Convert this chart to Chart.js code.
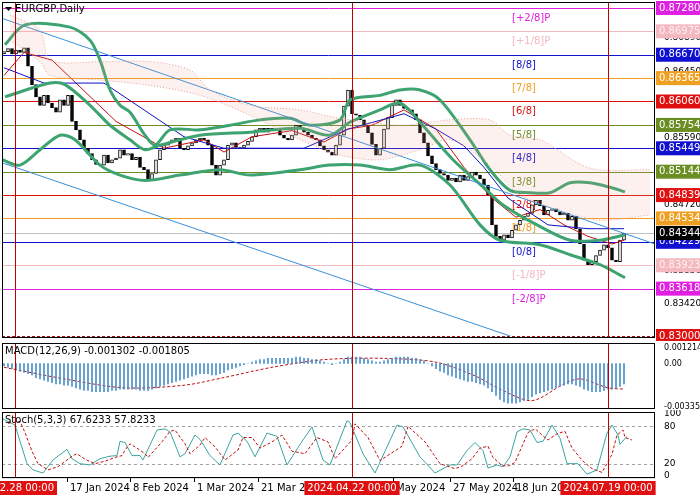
<!DOCTYPE html>
<html>
<head>
<meta charset="utf-8">
<script src="https://cdn.jsdelivr.net/npm/chart.js@4.4.1/dist/chart.umd.min.js"></script>
<style>
  body { margin: 0; background: #fff; }
  #wrap { position: relative; width: 700px; height: 500px; overflow: hidden; }
  canvas { position: absolute; left: 0; }
</style>
</head>
<body>
<div id="wrap">
  <canvas id="mainChart" style="top:0"></canvas>
  <canvas id="macdChart" style="top:341px"></canvas>
  <canvas id="stochChart" style="top:410px"></canvas>
</div>
<script>
// EURGBP daily closes, one per bar (bar index 0..155)
const closes = [
  0.8671,0.8675,0.8668,0.8673,0.8670,0.8676,0.8652,0.8628,0.8612,0.8601,
  0.8614,0.8604,0.8598,0.8592,0.8608,0.8601,0.8614,0.8580,0.8569,0.8556,
  0.8545,0.8538,0.8530,0.8524,0.8523,0.8536,0.8526,0.8530,0.8532,0.8543,
  0.8536,0.8538,0.8530,0.8533,0.8520,0.8517,0.8503,0.8512,0.8530,0.8543,
  0.8549,0.8552,0.8556,0.8558,0.8545,0.8543,0.8548,0.8552,0.8556,0.8558,
  0.8556,0.8549,0.8523,0.8510,0.8523,0.8530,0.8549,0.8552,0.8546,0.8545,
  0.8549,0.8554,0.8560,0.8569,0.8571,0.8566,0.8571,0.8570,0.8569,0.8562,
  0.8558,0.8556,0.8562,0.8575,0.8571,0.8566,0.8562,0.8558,0.8556,0.8548,
  0.8543,0.8540,0.8536,0.8549,0.8562,0.8600,0.8621,0.8590,0.8588,0.8582,
  0.8575,0.8565,0.8550,0.8536,0.8545,0.8570,0.8585,0.8601,0.8608,0.8601,
  0.8597,0.8595,0.8590,0.8582,0.8565,0.8552,0.8535,0.8525,0.8517,0.8512,
  0.8510,0.8503,0.8506,0.8501,0.8510,0.8503,0.8508,0.8514,0.8510,0.8505,
  0.8497,0.8484,0.8445,0.8430,0.8425,0.8432,0.8428,0.8438,0.8445,0.8451,
  0.8456,0.8460,0.8471,0.8477,0.8470,0.8458,0.8464,0.8466,0.8462,0.8458,
  0.8460,0.8451,0.8456,0.8440,0.8420,0.8399,0.8393,0.8397,0.8405,0.8412,
  0.8419,0.8415,0.8399,0.8397,0.8425,0.8434
];
const firstOpen = 0.8668;

// Bollinger bands, read as [bar index, price]
const bbUpper = [[0.25,0.8680],[5.25,0.8706],[16.5,0.8703],[21.5,0.8686],[24,0.8660],[26.5,0.8621],[29,0.8601],[31.5,0.8592],[35.25,0.8562],[37.75,0.8549],[41.5,0.8569],[49,0.8569],[56.5,0.8575],[64,0.8582],[71.5,0.8584],[76.5,0.8575],[84,0.8582],[86.5,0.8608],[94,0.8614],[99,0.8621],[104,0.8621],[109,0.8608],[116.5,0.8556],[121.5,0.8517],[126.5,0.8490],[131.5,0.8487],[136.5,0.8487],[141.5,0.8500],[146.5,0.8500],[151.5,0.8494],[155.25,0.8488]];
const bbMiddle = [[0.25,0.8612],[11.5,0.8630],[15.25,0.8628],[21.5,0.8601],[26.5,0.8575],[31.5,0.8556],[35.25,0.8543],[39,0.8549],[49,0.8562],[61.5,0.8566],[74,0.8571],[81.5,0.8562],[86.5,0.8579],[94,0.8595],[99,0.8604],[104,0.8579],[112.25,0.8530],[120.75,0.8490],[124.75,0.8471],[133.25,0.8445],[141.5,0.8425],[149,0.8425],[155.25,0.8432]];
const bbLower = [[-0.5,0.8530],[4,0.8523],[9,0.8543],[14,0.8562],[17.75,0.8556],[24,0.8523],[29,0.8510],[35.25,0.8503],[44,0.8510],[54,0.8517],[61.5,0.8510],[74,0.8517],[81.5,0.8523],[89,0.8523],[96.5,0.8517],[104,0.8523],[111.5,0.8497],[119,0.8445],[124,0.8425],[134,0.8419],[141.5,0.8406],[149,0.8393],[155.25,0.8376]];

// Ichimoku cloud edges
const cloudTop = [[1.5,0.8719],[9,0.8699],[11.5,0.8660],[24,0.8658],[36.5,0.8658],[46.5,0.8647],[51.5,0.8621],[61.5,0.8601],[74,0.8595],[84,0.8584],[99,0.8575],[111.5,0.8582],[121.5,0.8582],[126.5,0.8562],[134,0.8556],[146.5,0.8519],[161.5,0.8517]];
const cloudBottom = [[1.5,0.8686],[9,0.8658],[11.5,0.8640],[24,0.8634],[36.5,0.8627],[49,0.8614],[61.5,0.8588],[74,0.8556],[84,0.8536],[94,0.8530],[104,0.8543],[111.5,0.8556],[121.5,0.8523],[129,0.8484],[139,0.8464],[149,0.8451],[161.5,0.8458]];
const tenkan = [[0,0.8640],[5,0.8670],[12,0.8660],[20,0.8620],[28,0.8580],[40,0.8545],[50,0.8556],[55,0.8540],[62,0.8560],[72,0.8568],[80,0.8553],[86,0.8570],[92,0.8575],[100,0.8595],[108,0.8570],[115,0.8520],[122,0.8480],[128,0.8455],[134,0.8465],[140,0.8445],[146,0.8430],[152,0.8420],[155,0.8425]];
const kijun = [[0,0.8650],[10,0.8630],[25,0.8630],[45,0.8560],[55,0.8545],[75,0.8545],[86,0.8570],[100,0.8590],[108,0.8570],[115,0.8548],[120,0.8520],[126,0.8480],[136,0.8445],[146,0.8440],[155,0.8440]];
const trendUpper = [[-0.25,0.8714],[162.75,0.8420]];
const trendLower = [[-0.5,0.8526],[126.5,0.8300]];

// Murrey math levels
const murreyLevels = [0.87280,0.86975,0.86670,0.86365,0.86060,0.85754,0.85449,0.85144,0.84839,0.84534,0.84229,0.83923,0.83618];
const murreyNames = ['[+2/8]P','[+1/8]P','[8/8]','[7/8]','[6/8]','[5/8]','[4/8]','[3/8]','[2/8]','[1/8]','[0/8]','[-1/8]P','[-2/8]P'];
const murreyColors = ['#e020e0','#f4b8c0','#1010d0','#f0a020','#e01010','#6b8e23','#1010d0','#6b8e23','#e01010','#f0a020','#1010d0','#f4b8c0','#e020e0'];
const priceTicks = [0.86890,0.86450,0.85590,0.84720,0.83850,0.83420];
const lastPrice = 0.84344;
const floorLevel = 0.83000;

// MACD histogram per bar, signal read as [bar index, value]
const macdHist = [
  -0.0002,-0.0003,-0.0004,-0.0005,-0.0006,-0.0007,-0.0008,-0.0009,-0.0011,-0.0012,
  -0.0013,-0.0014,-0.0015,-0.0016,-0.0016,-0.0017,-0.0017,-0.0018,-0.0019,-0.0020,
  -0.0021,-0.0021,-0.0022,-0.0022,-0.0022,-0.0022,-0.0022,-0.0021,-0.0021,-0.0020,
  -0.0020,-0.0020,-0.0020,-0.0020,-0.0021,-0.0021,-0.0021,-0.0020,-0.0019,-0.0018,
  -0.0017,-0.0016,-0.0015,-0.0014,-0.0013,-0.0012,-0.0011,-0.0010,-0.0009,-0.0008,
  -0.0008,-0.0008,-0.0009,-0.0009,-0.0008,-0.0007,-0.0005,-0.0004,-0.0003,-0.0002,
  -0.0001,0.0000,0.0001,0.0002,0.0003,0.0003,0.0004,0.0004,0.0004,0.0004,
  0.0004,0.0004,0.0004,0.0005,0.0005,0.0004,0.0004,0.0003,0.0003,0.0002,
  0.0001,0.0000,-0.0001,0.0000,0.0001,0.0003,0.0005,0.0005,0.0005,0.0005,
  0.0004,0.0003,0.0002,0.0001,0.0001,0.0002,0.0003,0.0004,0.0005,0.0005,
  0.0005,0.0005,0.0004,0.0004,0.0003,0.0002,0.0000,-0.0002,-0.0004,-0.0006,
  -0.0007,-0.0009,-0.0010,-0.0011,-0.0012,-0.0013,-0.0014,-0.0014,-0.0015,-0.0016,
  -0.0017,-0.0019,-0.0022,-0.0025,-0.0028,-0.0030,-0.0031,-0.0031,-0.0031,-0.0030,
  -0.0029,-0.0028,-0.0026,-0.0024,-0.0023,-0.0022,-0.0021,-0.0020,-0.0019,-0.0018,
  -0.0017,-0.0016,-0.0016,-0.0017,-0.0018,-0.0020,-0.0021,-0.0022,-0.0022,-0.0022,
  -0.0021,-0.0020,-0.0020,-0.0019,-0.0018,-0.0016
];
const macdSignal = [[0,-0.0003],[15,-0.0012],[30,-0.0019],[45,-0.0017],[55,-0.0011],[67,-0.0003],[80,0.0003],[95,0.0004],[108,0.0001],[118,-0.0010],[124,-0.0020],[132,-0.0029],[140,-0.0016],[144,-0.0012],[151,-0.0019],[155,-0.0020]];

// Stochastic %K and %D, read as bar index / value
const stochIdx = [-0.25,2.75,4,5.75,7.25,9.75,12.25,15.75,17,19,21.5,24,26.5,28.25,29,30.25,32,34,34.75,38.25,40.25,41.5,44,45.25,47.75,49,51.5,54,57.25,58.5,60.75,62.75,65.75,68.25,70.75,74,77,79.75,81.5,85.75,86.5,89.75,92.75,98.25,99.75,104,107.75,111.5,113.25,115.75,117.75,119.75,121,123.25,124.75,126.5,128.25,129.75,131.5,133.25,134.75,137,139,140.75,143.5,145.75,148.25,150.75,152,153.5,154,155.75];
const stochK = [92,82,56,20,10,5,26,43,28,20,18,28,32,33,56,54,33,33,26,74,76,71,31,36,66,59,33,18,66,69,56,31,69,64,18,51,79,26,18,89,86,36,5,82,79,31,5,18,18,41,54,41,13,18,15,31,71,76,74,54,56,82,61,20,20,3,10,69,82,66,51,64];
const stochD = [85,88,70,40,20,10,15,32,36,27,20,24,30,33,42,52,45,36,30,55,72,74,52,36,50,62,47,26,42,62,62,45,55,66,40,36,62,55,28,58,84,62,25,48,80,55,20,12,16,28,45,48,30,17,16,22,48,70,76,66,58,68,72,45,24,12,6,35,66,74,62,58];

// Date labels on the time axis and the marked bars
const dateLabels = [[15.75,'17 Jan 2024'],[31.5,'8 Feb 2024'],[47.5,'1 Mar 2024'],[63.5,'21 Mar 2024'],[97.25,'May 2024'],[111.5,'27 May 2024'],[127.25,'18 Jun 2024']];
const markedBars = [[2.75,'2023.12.28 00:00'],[87,'2024.04.22 00:00'],[151,'2024.07.19 00:00']];

const X_MIN = -0.5, X_MAX = 162.75;
const FONT = '"DejaVu Sans", sans-serif';

function pts(arr) { return arr.map(p => ({x: p[0], y: p[1]})); }

function xScale(show) {
  const s = {
    type: 'linear', min: X_MIN, max: X_MAX, display: show, offset: false,
    grid: {display: false}, ticks: {display: false}
  };
  if (show) s.afterFit = sc => { sc.height = 20; };
  return s;
}
function yScale(min, max, ticks, fmt, size) {
  return {
    position: 'right', min: min, max: max,
    grid: {display: false}, border: {display: false},
    afterFit: s => { s.width = 45; s.paddingTop = 0; s.paddingBottom = 0; },
    afterBuildTicks: s => { s.ticks = ticks.map(v => ({value: v})); },
    ticks: {color: '#000', font: {family: FONT, size: size || 9}, padding: 1,
      callback: fmt || (v => v.toFixed(5))}
  };
}

// frame + vertical red lines, shared by all panels
const framePlugin = {
  id: 'frame',
  afterDatasetsDraw(chart) {
    const {ctx, chartArea: a, scales} = chart;
    ctx.save();
    ctx.strokeStyle = '#c00000';
    ctx.lineWidth = 1;
    markedBars.forEach(m => {
      const x = Math.round(scales.x.getPixelForValue(m[0])) + 0.5;
      ctx.beginPath(); ctx.moveTo(x, a.top); ctx.lineTo(x, a.bottom); ctx.stroke();
    });
    ctx.strokeStyle = '#000';
    ctx.strokeRect(a.left + 0.5, a.top + 0.5, a.width - 1, a.height - 1);
    ctx.restore();
  }
};

function tag(ctx, x, y, text, bg, fg) {
  ctx.fillStyle = bg;
  ctx.fillRect(x, y - 7, 45, 14);
  ctx.fillStyle = fg;
  ctx.textAlign = 'left';
  ctx.textBaseline = 'middle';
  ctx.fillText(text, x + 3, y);
}

const murreyPlugin = {
  id: 'murrey',
  beforeDatasetsDraw(chart) {
    const {ctx, chartArea: a, scales} = chart;
    ctx.save();
    ctx.font = '10px ' + FONT;
    murreyLevels.forEach((v, i) => {
      const y = Math.round(scales.y.getPixelForValue(v)) + 0.5;
      ctx.strokeStyle = murreyColors[i];
      ctx.beginPath(); ctx.moveTo(a.left, y); ctx.lineTo(a.right, y); ctx.stroke();
      ctx.fillStyle = murreyColors[i];
      ctx.textAlign = 'left'; ctx.textBaseline = 'middle';
      ctx.fillText(murreyNames[i], scales.x.getPixelForValue(127), y + 10);
    });
    let y = Math.round(scales.y.getPixelForValue(lastPrice)) + 0.5;
    ctx.strokeStyle = '#c0c0c0';
    ctx.beginPath(); ctx.moveTo(a.left, y); ctx.lineTo(a.right, y); ctx.stroke();
    y = Math.round(scales.y.getPixelForValue(floorLevel)) + 0.5;
    ctx.strokeStyle = '#a01010'; ctx.setLineDash([3, 2]);
    ctx.beginPath(); ctx.moveTo(a.left, y); ctx.lineTo(a.right, y); ctx.stroke();
    ctx.restore();
  },
  afterDraw(chart) {
    const {ctx, chartArea: a, scales} = chart;
    ctx.save();
    ctx.font = '10px ' + FONT;
    murreyLevels.forEach((v, i) => {
      tag(ctx, a.right + 1, scales.y.getPixelForValue(v), v.toFixed(5), murreyColors[i], i === 1 || i === 11 ? '#fff0f0' : '#fff');
    });
    tag(ctx, a.right + 1, scales.y.getPixelForValue(lastPrice), lastPrice.toFixed(5), '#000', '#fff');
    tag(ctx, a.right + 1, scales.y.getPixelForValue(floorLevel), floorLevel.toFixed(5), '#e01010', '#fff');
    ctx.fillStyle = '#000';
    ctx.font = '10px ' + FONT;
    ctx.textAlign = 'left'; ctx.textBaseline = 'middle';
    ctx.beginPath(); ctx.moveTo(5, 7); ctx.lineTo(12, 7); ctx.lineTo(8.5, 11); ctx.closePath(); ctx.fill();
    ctx.fillText('EURGBP,Daily', 15, 9);
    ctx.restore();
  }
};

function labelPlugin(text) {
  return {
    id: 'label',
    afterDraw(chart) {
      const {ctx, chartArea: a} = chart;
      ctx.save();
      ctx.fillStyle = '#000';
      ctx.font = '10px ' + FONT;
      ctx.textAlign = 'left'; ctx.textBaseline = 'middle';
      ctx.fillText(text, a.left + 3, a.top + 8);
      ctx.restore();
    }
  };
}

const timePlugin = {
  id: 'time',
  afterDraw(chart) {
    const {ctx, chartArea: a, scales} = chart;
    ctx.save();
    ctx.font = '10px ' + FONT;
    ctx.textBaseline = 'middle';
    const y = a.bottom + 10;
    dateLabels.forEach(d => {
      const x = scales.x.getPixelForValue(d[0]);
      ctx.strokeStyle = '#000';
      ctx.beginPath(); ctx.moveTo(x + 0.5, a.bottom); ctx.lineTo(x + 0.5, a.bottom + 4); ctx.stroke();
      ctx.fillStyle = '#000'; ctx.textAlign = 'left';
      ctx.fillText(d[1], x + 3, y);
    });
    markedBars.forEach(m => {
      const x = scales.x.getPixelForValue(m[0]);
      const w = ctx.measureText(m[1]).width + 6;
      let left = Math.max(0, Math.min(x - w / 2, 700 - w));
      if (m[0] < 5) left = x - w + 42;
      ctx.fillStyle = '#e01010';
      ctx.fillRect(left, y - 7, w, 14);
      ctx.fillStyle = '#fff'; ctx.textAlign = 'left';
      ctx.fillText(m[1], left + 3, y);
    });
    ctx.restore();
  }
};

function setSize(id, h) {
  const c = document.getElementById(id);
  c.style.width = '700px'; c.style.height = h + 'px';
  c.width = 700; c.height = h;
  return c;
}

const common = {
  responsive: false, animation: false,
  plugins: {legend: {display: false}, tooltip: {enabled: false}},
};

function lineDs(data, color, width, extra) {
  return Object.assign({type: 'line', data: data, borderColor: color, borderWidth: width,
    pointRadius: 0, tension: 0.3, fill: false}, extra || {});
}

function createMainChart() {
  const candles = closes.map((c, i) => ({x: i, y: [i === 0 ? firstOpen : closes[i - 1], c]}));
  const candleColors = candles.map(c => c.y[1] >= c.y[0] ? '#ffffff' : '#000000');
  new Chart(setSize('mainChart', 341), {
    type: 'bar',
    data: {datasets: [
      lineDs(pts(cloudTop), '#e8a090', 1, {borderDash: [1, 2], fill: '+1', backgroundColor: 'rgba(232,160,144,0.15)'}),
      lineDs(pts(cloudBottom), '#e8a090', 1, {borderDash: [1, 2]}),
      lineDs(pts(trendUpper), '#3a8fd8', 1, {tension: 0}),
      lineDs(pts(trendLower), '#3a8fd8', 1, {tension: 0}),
      lineDs(pts(bbUpper), '#3da370', 3),
      lineDs(pts(bbMiddle), '#3da370', 3),
      lineDs(pts(bbLower), '#3da370', 3),
      lineDs(pts(kijun), '#1010c0', 1, {tension: 0}),
      lineDs(pts(tenkan), '#c01010', 1, {tension: 0}),
      {type: 'bar', data: candles, backgroundColor: candleColors, borderColor: '#000',
        borderWidth: 1, borderSkipped: false, barThickness: 3, grouped: false}
    ]},
    options: Object.assign({}, common, {
      layout: {padding: {left: 2, top: 2, bottom: 3, right: 0}},
      scales: {
        x: xScale(false),
        y: yScale(0.82974, 0.87358, priceTicks)
      }
    }),
    plugins: [murreyPlugin, framePlugin]
  });
}

function createMacdChart() {
  new Chart(setSize('macdChart', 69), {
    type: 'bar',
    data: {datasets: [
      {type: 'bar', data: macdHist.map((v, i) => ({x: i, y: v})), backgroundColor: '#4a90c8',
        barThickness: 1, grouped: false},
      lineDs(pts(macdSignal), '#c01010', 1, {borderDash: [3, 2]})
    ]},
    options: Object.assign({}, common, {
      layout: {padding: {left: 2, top: 2, bottom: 1, right: 0}},
      scales: {
        x: xScale(false),
        y: yScale(-0.003556, 0.0016, [0.001214, 0, -0.003356], v => v === 0 ? '0.00' : v.toFixed(6), 8)
      }
    }),
    plugins: [framePlugin, labelPlugin('MACD(12,26,9) -0.001302 -0.001805')]
  });
}

function createStochChart() {
  const kPts = stochIdx.map((x, i) => ({x: x, y: stochK[i]}));
  const dPts = stochIdx.map((x, i) => ({x: x + 1.25, y: stochD[i]}));
  const levelPlugin = {
    id: 'levels',
    beforeDatasetsDraw(chart) {
      const {ctx, chartArea: a, scales} = chart;
      ctx.save();
      ctx.strokeStyle = '#a0a0a0'; ctx.setLineDash([3, 3]);
      [80, 20].forEach(v => {
        const y = Math.round(scales.y.getPixelForValue(v)) + 0.5;
        ctx.beginPath(); ctx.moveTo(a.left, y); ctx.lineTo(a.right, y); ctx.stroke();
      });
      ctx.restore();
    }
  };
  new Chart(setSize('stochChart', 90), {
    type: 'line',
    data: {datasets: [
      lineDs(dPts, '#c01010', 1, {borderDash: [3, 2], tension: 0}),
      lineDs(kPts, '#3aa5a0', 1, {tension: 0})
    ]},
    options: Object.assign({}, common, {
      layout: {padding: {left: 2, top: 2, bottom: 2, right: 0}},
      scales: {
        x: xScale(true),
        y: yScale(-3, 103, [100, 80, 20, 0], v => String(v))
      }
    }),
    plugins: [levelPlugin, framePlugin, timePlugin, labelPlugin('Stoch(5,3,3) 67.6233 57.8233')]
  });
}

function init() {
  createMainChart();
  createMacdChart();
  createStochChart();
}

document.addEventListener('DOMContentLoaded', init);
</script>
</body>
</html>
